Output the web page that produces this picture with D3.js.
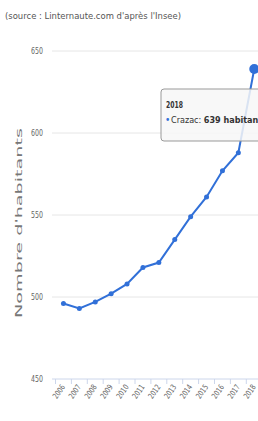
<!DOCTYPE html>
<html>
<head>
<meta charset="utf-8">
<script src="https://cdn.jsdelivr.net/npm/d3@7"></script>
<style>
  body { margin: 0; background: #fff; }
  svg { display: block; }
  text { font-family: "Liberation Sans Narrow", "DejaVu Sans Condensed", "Liberation Sans", sans-serif; }
</style>
</head>
<body>
<div id="chart"></div>
<script>
'use strict'
/* Datos */
var annees = ['2006','2007','2008','2009','2010','2011','2012','2013','2014','2015','2016','2017','2018'];
var habitants = [496, 493, 497, 502, 508, 518, 521, 535, 549, 561, 577, 588, 639];
var ticksY = [450, 500, 550, 600, 650];
var nomSerie = 'Crazac';
var source = "(source : Linternaute.com d'après l'Insee)";
var titreY = "Nombre d'habitants";

var w = 258, h = 421;
var bleu = '#3170d8';

var svg = d3.select('#chart').append('svg')
            .attr('width', w).attr('height', h);

// Escalas
var x = d3.scaleBand().domain(annees).range([55.5, 55.5 + 13 * 15.9]);
var y = d3.scaleLinear().domain([450, 650]).range([379, 51]);

// Fuente
svg.append('text')
   .attr('x', 5).attr('y', 19)
   .attr('font-size', 9.5).attr('fill', '#555')
   .attr('textLength', 176).attr('lengthAdjust', 'spacingAndGlyphs')
   .text(source);

// Rejilla
svg.append('g').selectAll('line')
   .data(ticksY.slice(1))
   .enter().append('line')
   .attr('x1', 52).attr('x2', w)
   .attr('y1', d => y(d)).attr('y2', d => y(d))
   .attr('stroke', '#e6e6e6');

// Etiquetas eje Y
svg.append('g').selectAll('text')
   .data(ticksY)
   .enter().append('text')
   .attr('x', 43).attr('y', d => y(d) + 3)
   .attr('text-anchor', 'end')
   .attr('font-size', 9).attr('fill', '#666')
   .attr('textLength', 12).attr('lengthAdjust', 'spacingAndGlyphs')
   .text(d => d);

// Titulo eje Y
svg.append('text')
   .attr('transform', 'translate(22,223) rotate(-90)')
   .attr('text-anchor', 'middle')
   .attr('font-size', 8).attr('fill', '#777')
   .attr('textLength', 190).attr('lengthAdjust', 'spacingAndGlyphs')
   .text(titreY);

// Eje X
var ejeX = svg.append('g').attr('transform', 'translate(0,' + y(450) + ')');
ejeX.append('line').attr('x1', 52).attr('x2', w).attr('stroke', '#ccd6eb');
ejeX.selectAll('line.tick')
    .data(annees)
    .enter().append('line')
    .attr('class', 'tick')
    .attr('x1', d => x(d)).attr('x2', d => x(d))
    .attr('y1', 0).attr('y2', 5)
    .attr('stroke', '#ccd6eb');
ejeX.selectAll('text')
    .data(annees)
    .enter().append('text')
    .attr('transform', d => 'translate(' + (x(d) + x.bandwidth() / 2 + 2) + ',8) rotate(-55)')
    .attr('text-anchor', 'end')
    .attr('font-size', 8).attr('fill', '#666')
    .attr('textLength', 15).attr('lengthAdjust', 'spacingAndGlyphs')
    .text(d => d);

// Linea
var cx = (d, i) => x(annees[i]) + x.bandwidth() / 2;
var linea = d3.line().x((d, i) => cx(d, i)).y(d => y(d));
svg.append('path')
   .datum(habitants)
   .attr('d', linea)
   .attr('fill', 'none').attr('stroke', bleu).attr('stroke-width', 2);

svg.append('g').selectAll('circle')
   .data(habitants)
   .enter().append('circle')
   .attr('cx', (d, i) => cx(d, i))
   .attr('cy', d => y(d))
   .attr('r', (d, i) => i === habitants.length - 1 ? 5 : 2.5)
   .attr('fill', bleu);

// Tooltip
var ult = habitants.length - 1;
var tip = svg.append('g').attr('transform', 'translate(161,89)');
tip.append('rect')
   .attr('width', 110).attr('height', 52).attr('rx', 3)
   .attr('fill', 'rgba(247,247,247,0.85)').attr('stroke', '#999');
tip.append('text')
   .attr('x', 5).attr('y', 19)
   .attr('font-size', 9).attr('font-weight', 'bold').attr('fill', '#333')
   .attr('textLength', 17).attr('lengthAdjust', 'spacingAndGlyphs')
   .text(annees[ult]);
tip.append('text')
   .attr('x', 4).attr('y', 34)
   .attr('font-size', 10).attr('fill', bleu)
   .text('\u2022');
var t2 = tip.append('text')
   .attr('x', 10).attr('y', 34)
   .attr('font-size', 9.5).attr('fill', '#333')
   .attr('textLength', 96).attr('lengthAdjust', 'spacingAndGlyphs');
t2.append('tspan').text(nomSerie + ': ');
t2.append('tspan').attr('font-weight', 'bold').text(habitants[ult] + ' habitants');
</script>
</body>
</html>
